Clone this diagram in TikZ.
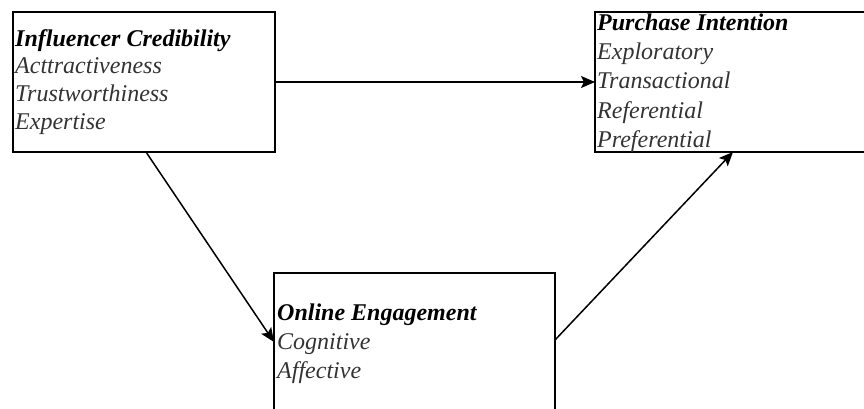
\documentclass[tikz,border=0pt]{standalone}
\usepackage{fontspec}
\setmainfont{Liberation Serif}
\usetikzlibrary{arrows.meta}
\begin{document}
\begin{tikzpicture}[x=1pt,y=-1pt,
  box/.style={draw, line width=1.4pt, rectangle, anchor=north west, inner sep=0pt, outer sep=0pt},
  lbl/.style={anchor=base west, inner sep=0pt, font=\fontsize{24}{28}\selectfont\itshape, text=black!80},
  hd/.style={anchor=base west, inner sep=0pt, font=\fontsize{24}{28}\selectfont\bfseries\itshape, text=black},
  conn/.style={line width=1.5pt, -{Stealth[length=14pt,width=12pt,inset=3pt]}}]
\useasboundingbox (0,0) rectangle (864,409);
\clip (0,0) rectangle (864,409);
% boxes
\node[box, minimum width=262pt, minimum height=140pt] (ic) at (13,12) {};
\node[box, minimum width=290pt, minimum height=140pt] (pi) at (595,12) {};
\node[box, minimum width=281pt, minimum height=160pt] (oe) at (274,273) {};
% texts
\node[hd]  (ic0) at (15,47)  {Influencer Credibility};
\node[lbl] (ic1) at (15,74)  {Acttractiveness};
\node[lbl] (ic2) at (15,102) {Trustworthiness};
\node[lbl] (ic3) at (15,130) {Expertise};
\node[hd]  (pi0) at (597,31)  {Purchase Intention};
\node[lbl] (pi1) at (597,60)  {Exploratory};
\node[lbl] (pi2) at (597,89)  {Transactional};
\node[lbl] (pi3) at (597,118) {Referential};
\node[lbl] (pi4) at (597,147) {Preferential};
\node[hd]  (oe0) at (277,320) {Online Engagement};
\node[lbl] (oe1) at (277,349) {Cognitive};
\node[lbl] (oe2) at (277,378) {Affective};
% connector end points on the box borders
\coordinate (icR) at ([yshift=-70pt]ic.north east);
\coordinate (piL) at ([yshift=-70pt]pi.north west);
\coordinate (icB) at ([xshift=133pt]ic.south west);
\coordinate (oeL) at ([yshift=-69pt]oe.north west);
\coordinate (oeR) at ([yshift=-67pt]oe.north east);
\coordinate (piB) at ([xshift=138pt]pi.south west);
\draw[conn] (icR) -- (piL);
\draw[conn] (icB) -- (oeL);
\draw[conn] (oeR) -- (piB);
\end{tikzpicture}
\end{document}
